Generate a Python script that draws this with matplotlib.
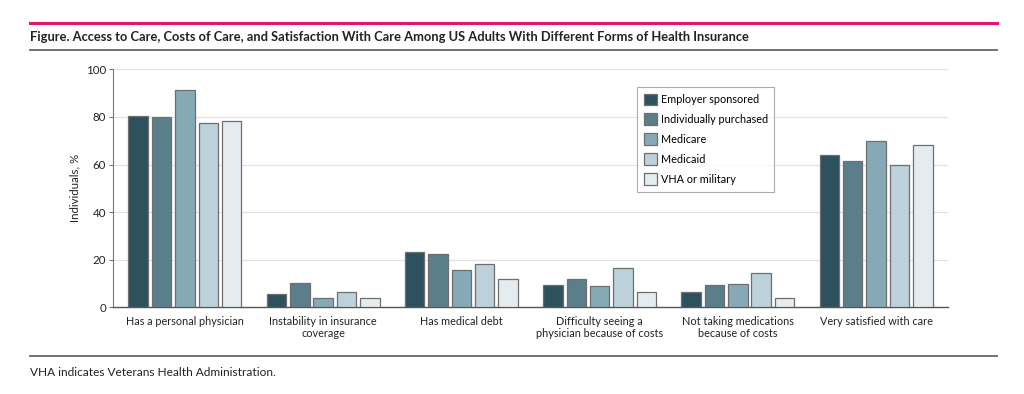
import numpy as np
import matplotlib.pyplot as plt
from matplotlib.lines import Line2D

# categories and values (% of individuals)
categories = ['Has a personal physician', 'Instability in insurance\ncoverage', 'Has medical debt',
              'Difficulty seeing a\nphysician because of costs', 'Not taking medications\nbecause of costs',
              'Very satisfied with care']
series = ['Employer sponsored', 'Individually purchased', 'Medicare', 'Medicaid', 'VHA or military']
employer = [80.4, 5.4, 23.4, 9.2, 6.6, 64.1]
individual = [79.8, 10.2, 22.2, 11.8, 9.5, 61.3]
medicare = [91.3, 4.0, 15.7, 8.9, 9.8, 69.7]
medicaid = [77.6, 6.6, 18.3, 16.6, 14.3, 59.7]
vha = [78.4, 4.0, 11.8, 6.4, 4.0, 68.3]
values = [employer, individual, medicare, medicaid, vha]
colors = ['#2d525e', '#5a7f8b', '#85aab6', '#bcd1da', '#e5ecf0']

plt.rcParams['font.family'] = ['Lato', 'DejaVu Sans']

fig = plt.figure(figsize=(10.24, 3.94), dpi=100)
ax = fig.add_axes([113/1024, 1-307.3/394, (948-113)/1024, (307.3-69.3)/394])

x = np.arange(len(categories))
step = 0.169
width = 0.141
for i, (name, vals, c) in enumerate(zip(series, values, colors)):
    ax.bar(x + (i - 2) * step, vals, width, color=c, edgecolor='#6e6e6e', linewidth=0.9,
           label=name, zorder=3)

ax.set_xlim(-0.52, 5.52)
ax.set_ylim(0, 100)
ax.set_yticks([0, 20, 40, 60, 80, 100])
ax.set_xticks(x)
ax.set_xticklabels(categories, fontsize=7.8, color='#222222')
ax.tick_params(axis='x', length=0, pad=6)
ax.tick_params(axis='y', labelsize=8.3, colors='#222222', length=3, width=0.8, color='#777777', pad=2)
ax.grid(axis='y', color='#e2e2e2', linewidth=0.9, zorder=0)
ax.set_axisbelow(True)
for s in ['top', 'right']:
    ax.spines[s].set_visible(False)
ax.spines['left'].set_color('#777777')
ax.spines['left'].set_linewidth(0.8)
ax.spines['bottom'].set_color('#555555')
ax.spines['bottom'].set_linewidth(1.0)
ax.set_ylabel('Individuals, %', fontsize=8.3, color='#222222', labelpad=4)

leg = ax.legend(loc='upper left', bbox_to_anchor=((637-113)/835, (307.3-87)/238), fontsize=7.8,
                frameon=True, fancybox=False, edgecolor='#999999', handlelength=1.2,
                handleheight=1.3, handletextpad=0.4, labelspacing=0.75, borderpad=0.6,
                borderaxespad=0)
leg.get_frame().set_linewidth(0.8)
for h in leg.legend_handles:
    h.set_edgecolor('#6e6e6e')

# header / footer lines
fig.add_artist(Line2D([30/1024, 997/1024], [1-23/394, 1-23/394], color='#e2156f', linewidth=2.2))
fig.add_artist(Line2D([30/1024, 997/1024], [1-50/394, 1-50/394], color='#666666', linewidth=1.3))
fig.add_artist(Line2D([30/1024, 997/1024], [1-356/394, 1-356/394], color='#666666', linewidth=1.3))
fig.text(30/1024, 1-37/394, 'Figure. Access to Care, Costs of Care, and Satisfaction With Care Among US Adults With Different Forms of Health Insurance',
         fontsize=9.3, fontweight='bold', color='#222222', va='center', ha='left')
fig.text(30/1024, 1-373/394, 'VHA indicates Veterans Health Administration.', fontsize=8.6,
         color='#222222', va='center', ha='left')

fig.savefig('out.png', dpi=100)
